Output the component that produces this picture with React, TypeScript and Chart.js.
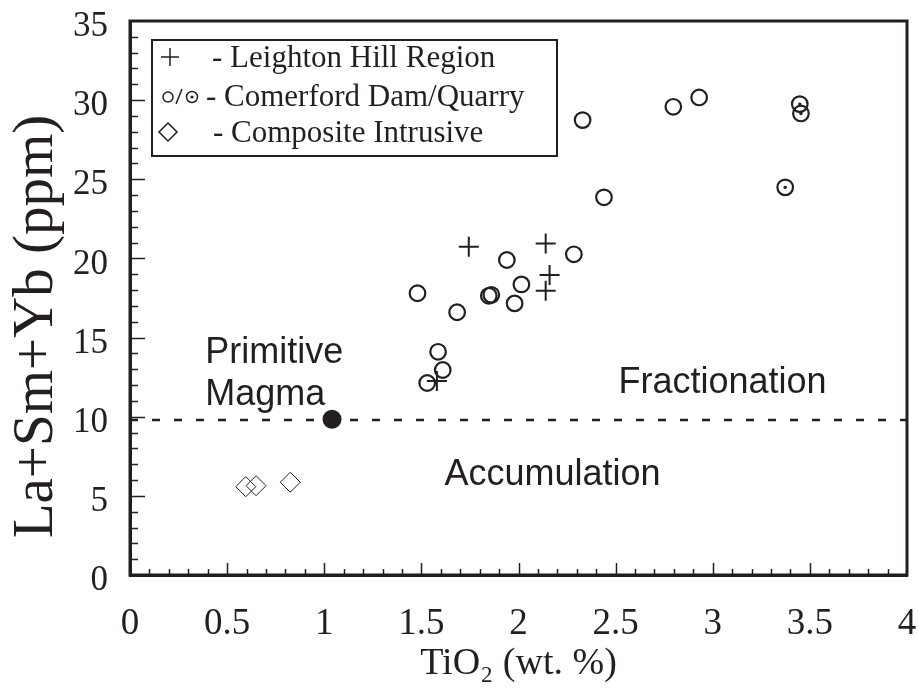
import React, { useEffect, useRef } from "react";
import { Chart, registerables } from "chart.js";

Chart.register(...registerables);

const INK = "#231f20";
const SERIF = "'Liberation Serif', 'Times New Roman', Times, serif";
const SANS = "'Liberation Sans', Arial, Helvetica, sans-serif";

// ---- data (TiO2 wt.% , La+Sm+Yb ppm) ----
const leightonX = [1.744, 2.14, 2.16, 2.14, 1.58];
const leightonY = [20.74, 20.95, 18.95, 17.96, 12.25];

const comerfordOpenX = [1.48, 1.684, 1.847, 1.86, 1.98, 2.015, 1.94, 2.285, 2.44, 2.33, 2.797, 2.93, 1.586, 1.61, 1.53];
const comerfordOpenY = [17.8, 16.6, 17.64, 17.7, 17.16, 18.36, 19.9, 20.26, 23.86, 28.74, 29.58, 30.17, 14.1, 12.95, 12.13];

const comerfordDotX = [3.373, 3.448, 3.454];
const comerfordDotY = [24.49, 29.75, 29.16];

const compositeX = [0.596, 0.649, 0.825];
const compositeY = [5.58, 5.64, 5.86];

const primitiveX = [1.04];
const primitiveY = [9.84];

const boundaryX = [0, 4];
const boundaryY = [9.8, 9.8];

const xTickValues = [0, 0.5, 1, 1.5, 2, 2.5, 3, 3.5, 4];
const xTickLabels = ["0", "0.5", "1", "1.5", "2", "2.5", "3", "3.5", "4"];
const yTickValues = [0, 5, 10, 15, 20, 25, 30, 35];
const yTickLabels = ["0", "5", "10", "15", "20", "25", "30", "35"];

const xTitle = "TiO\u2082 (wt. %)";
const yTitle = "La+Sm+Yb (ppm)    ";

const legendLabels = ["- Leighton Hill Region", "- Comerford Dam/Quarry", "- Composite Intrusive"];

const zip = (xs: number[], ys: number[]) => xs.map((x, i) => ({ x, y: ys[i] }));

const decorPlugin = {
  id: "decor",
  afterDatasetsDraw(chart: any) {
    const { ctx, chartArea: a } = chart;
    const xs = chart.scales.x;
    const ys = chart.scales.y;
    ctx.save();
    ctx.strokeStyle = INK;
    ctx.lineWidth = 1.5;
    ctx.beginPath();
    for (let i = 1; i < 40; i++) {
      const px = Math.round(xs.getPixelForValue(i / 10)) + 0.5;
      const len = i % 5 === 0 ? 12 : 6;
      ctx.moveTo(px, a.bottom);
      ctx.lineTo(px, a.bottom - len);
    }
    for (let i = 1; i < 35; i++) {
      const py = Math.round(ys.getPixelForValue(i)) + 0.5;
      const len = i % 5 === 0 ? 15 : 8;
      ctx.moveTo(a.left, py);
      ctx.lineTo(a.left + len, py);
    }
    ctx.stroke();
    ctx.lineWidth = 3;
    ctx.strokeRect(a.left, a.top, a.right - a.left, a.bottom - a.top);
    ctx.restore();
  },
  afterDraw(chart: any) {
    const { ctx, chartArea: a } = chart;
    const xs = chart.scales.x;
    const ys = chart.scales.y;
    ctx.save();
    ctx.fillStyle = INK;
    ctx.strokeStyle = INK;
    ctx.font = `36px ${SANS}`;
    ctx.textAlign = "left";
    ctx.textBaseline = "alphabetic";
    ctx.fillText("Primitive", xs.getPixelForValue(0.387), ys.getPixelForValue(13.39));
    ctx.fillText("Magma", xs.getPixelForValue(0.387), ys.getPixelForValue(10.74));
    ctx.fillText("Fractionation", xs.getPixelForValue(2.515), ys.getPixelForValue(11.5));
    ctx.fillText("Accumulation", xs.getPixelForValue(1.619), ys.getPixelForValue(5.69));

    const bx = a.left + 22;
    const by = a.top + 19;
    const bw = 405;
    const bh = 116;
    ctx.fillStyle = "#ffffff";
    ctx.fillRect(bx, by, bw, bh);
    ctx.lineWidth = 2;
    ctx.strokeRect(bx, by, bw, bh);
    ctx.fillStyle = INK;
    ctx.font = `31px ${SERIF}`;
    const base = [by + 27, by + 66, by + 102];
    ctx.fillText(legendLabels[0], bx + 60, base[0]);
    ctx.fillText(legendLabels[1], bx + 54, base[1]);
    ctx.fillText(legendLabels[2], bx + 61, base[2]);
    ctx.lineWidth = 1.5;
    const cy0 = base[0] - 10;
    ctx.beginPath();
    ctx.moveTo(bx + 9, cy0);
    ctx.lineTo(bx + 27, cy0);
    ctx.moveTo(bx + 18, cy0 - 9);
    ctx.lineTo(bx + 18, cy0 + 9);
    ctx.stroke();
    const cy1 = base[1] - 9;
    ctx.beginPath();
    ctx.arc(bx + 16, cy1, 5, 0, Math.PI * 2);
    ctx.stroke();
    ctx.beginPath();
    ctx.moveTo(bx + 24, cy1 + 7);
    ctx.lineTo(bx + 30, cy1 - 8);
    ctx.stroke();
    ctx.beginPath();
    ctx.arc(bx + 40, cy1, 5.5, 0, Math.PI * 2);
    ctx.stroke();
    ctx.beginPath();
    ctx.arc(bx + 40, cy1, 1.6, 0, Math.PI * 2);
    ctx.fill();
    const cy2 = base[2] - 10;
    ctx.beginPath();
    ctx.moveTo(bx + 16, cy2 - 9);
    ctx.lineTo(bx + 25, cy2);
    ctx.lineTo(bx + 16, cy2 + 9);
    ctx.lineTo(bx + 7, cy2);
    ctx.closePath();
    ctx.stroke();
    ctx.restore();
  },
};

export default function App() {
  const ref = useRef<HTMLCanvasElement | null>(null);

  useEffect(() => {
    if (!ref.current) return;
    const chart = new Chart(ref.current, {
      type: "scatter",
      data: {
        datasets: [
          {
            label: "Primitive Magma",
            data: zip(primitiveX, primitiveY),
            pointStyle: "circle",
            pointRadius: 9.5,
            backgroundColor: INK,
            borderColor: INK,
            borderWidth: 0,
          },
          {
            label: "Leighton Hill Region",
            data: zip(leightonX, leightonY),
            pointStyle: "cross",
            pointRadius: 10,
            borderColor: INK,
            borderWidth: 2,
          },
          {
            label: "Comerford centre dots",
            data: zip(comerfordDotX, comerfordDotY),
            pointStyle: "circle",
            pointRadius: 1.7,
            backgroundColor: INK,
            borderColor: INK,
            borderWidth: 0,
          },
          {
            label: "Comerford Dam/Quarry (dotted)",
            data: zip(comerfordDotX, comerfordDotY),
            pointStyle: "circle",
            pointRadius: 7.8,
            backgroundColor: "rgba(0,0,0,0)",
            borderColor: INK,
            borderWidth: 2.2,
          },
          {
            label: "Comerford Dam/Quarry",
            data: zip(comerfordOpenX, comerfordOpenY),
            pointStyle: "circle",
            pointRadius: 7.8,
            backgroundColor: "rgba(0,0,0,0)",
            borderColor: INK,
            borderWidth: 2.2,
          },
          {
            label: "Composite Intrusive",
            data: zip(compositeX, compositeY),
            pointStyle: "rectRot",
            pointRadius: 10,
            backgroundColor: "rgba(0,0,0,0)",
            borderColor: INK,
            borderWidth: 1,
          },
          {
            type: "line",
            label: "Boundary",
            data: zip(boundaryX, boundaryY),
            showLine: true,
            pointRadius: 0,
            borderColor: INK,
            borderWidth: 2.5,
            borderDash: [8, 14],
            fill: false,
          } as any,
        ],
      },
      options: {
        animation: false,
        responsive: false,
        devicePixelRatio: 1,
        layout: { padding: { top: 21, right: 11, bottom: 0, left: 0 }, autoPadding: false } as any,
        plugins: {
          legend: { display: false },
          tooltip: { enabled: false },
        },
        scales: {
          x: {
            type: "linear",
            position: "bottom",
            min: 0,
            max: 4,
            afterBuildTicks: (s: any) => {
              s.ticks = xTickValues.map((v) => ({ value: v }));
            },
            afterFit: (s: any) => {
              s.height = 120;
              s.paddingLeft = 0;
              s.paddingRight = 0;
            },
            ticks: {
              color: INK,
              padding: 27,
              maxRotation: 0,
              autoSkip: false,
              font: { family: SERIF, size: 37 },
              callback: (_v: any, i: number) => xTickLabels[i],
            },
            grid: { display: false, drawTicks: false },
            border: { display: true, color: INK, width: 3 },
            title: {
              display: true,
              text: xTitle,
              color: INK,
              font: { family: SERIF, size: 38 },
              padding: { top: 0, bottom: 8 },
            },
          },
          y: {
            type: "linear",
            position: "left",
            min: 0,
            max: 35,
            afterBuildTicks: (s: any) => {
              s.ticks = yTickValues.map((v) => ({ value: v }));
            },
            afterFit: (s: any) => {
              s.width = 130;
              s.paddingTop = 0;
              s.paddingBottom = 0;
            },
            ticks: {
              color: INK,
              padding: 22,
              autoSkip: false,
              font: { family: SERIF, size: 35, lineHeight: "12px" } as any,
              // blank first line drops the label a few pixels below its tick, as in the original
              callback: (_v: any, i: number) => ["", yTickLabels[i]],
            },
            grid: { display: false, drawTicks: false },
            border: { display: true, color: INK, width: 3 },
            title: {
              display: true,
              text: yTitle,
              color: INK,
              font: { family: SERIF, size: 57, lineHeight: 1 },
              padding: { top: 9, bottom: 0 },
            },
          },
        },
      },
      plugins: [decorPlugin],
    });
    return () => chart.destroy();
  }, []);

  return (
    <div style={{ position: "absolute", left: 0, top: 0, width: 918, height: 695, background: "#fff" }}>
      <canvas ref={ref} width={918} height={695} style={{ display: "block" }} />
    </div>
  );
}
